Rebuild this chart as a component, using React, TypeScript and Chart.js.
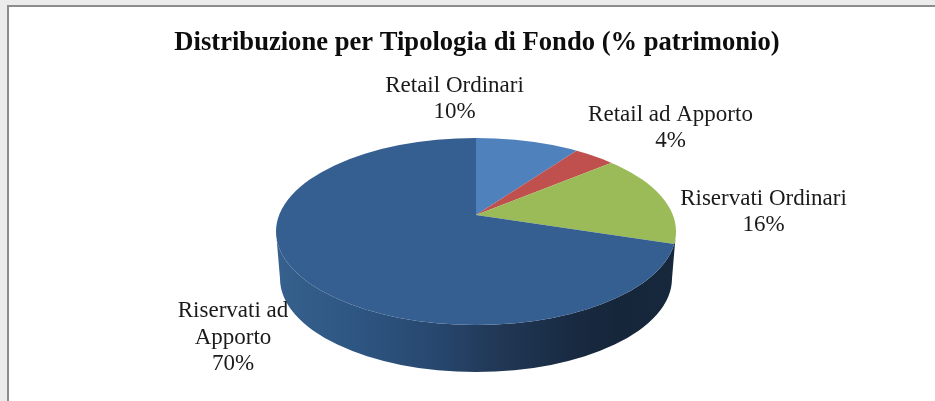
import React, { useEffect, useRef } from "react";
import { Chart, registerables } from "chart.js";

Chart.register(...registerables);

const TITLE = "Distribuzione per Tipologia di Fondo (% patrimonio)";
const categories = ["Retail Ordinari", "Retail ad Apporto", "Riservati Ordinari", "Riservati ad Apporto"];
const shares = [10, 4, 16, 70];
const sliceColors = ["#4F81BD", "#C0504D", "#9BBB59", "#365F91"];
const labelLines = [
  ["Retail Ordinari", "10%"],
  ["Retail ad Apporto", "4%"],
  ["Riservati Ordinari", "16%"],
  ["Riservati ad", "Apporto", "70%"],
];
const labelAnchors = [
  { x: 454.5, y: 85.5 },
  { x: 670.5, y: 114.5 },
  { x: 763.5, y: 198.5 },
  { x: 233, y: 311 },
];

const RIM = { cx: 476, cy: 231.5, rx: 200, ry: 93.5, depth: 47, bottomRx: 196, apexY: 215, compression: 0.83 };
const LABEL_FONT = '23px "Liberation Serif", serif';
const LINE_HEIGHT = 26.5;

const projectAngle = (canvasAngle: number) => {
  const theta = canvasAngle + Math.PI / 2;
  const turn = Math.PI * 2;
  const t = ((theta % turn) + turn) % turn;
  if (Math.abs(t) < 1e-6 || Math.abs(t - turn) < 1e-6) return theta;
  let p = 2 * Math.atan(RIM.compression * Math.tan(t / 2));
  if (p < 0) p += turn;
  return p;
};

const rimDirection = (p: number) => {
  const e = (RIM.cy - RIM.apexY) / RIM.ry;
  return Math.atan2(-Math.cos(p) + e, Math.sin(p));
};

const pie3d = {
  id: "pie3d",
  beforeDatasetsDraw(chart: any) {
    const ctx = chart.ctx;
    const { cx, cy, rx, ry, depth, bottomRx, apexY } = RIM;
    const wall = ctx.createLinearGradient(cx - rx, 0, cx + rx, 0);
    wall.addColorStop(0, "#36608D");
    wall.addColorStop(0.2, "#2E5682");
    wall.addColorStop(0.4, "#27476E");
    wall.addColorStop(0.55, "#213856");
    wall.addColorStop(0.75, "#182A41");
    wall.addColorStop(0.85, "#16263A");
    wall.addColorStop(1, "#17283C");
    ctx.save();
    ctx.beginPath();
    ctx.ellipse(cx, cy, rx, ry, 0, 0, Math.PI);
    ctx.lineTo(cx - bottomRx, cy + depth);
    ctx.ellipse(cx, cy + depth, bottomRx, ry, 0, Math.PI, 0, true);
    ctx.closePath();
    ctx.fillStyle = wall;
    ctx.fill();
    ctx.restore();

    const arcs = chart.getDatasetMeta(0).data;
    chart.$saved = arcs.map((a: any) => ({
      startAngle: a.startAngle, endAngle: a.endAngle, circumference: a.circumference, outerRadius: a.outerRadius,
    }));
    const R = arcs[0].outerRadius;
    const ox = arcs[0].x;
    const oy = arcs[0].y;
    arcs.forEach((a: any, i: number) => {
      const s = chart.$saved[i];
      const start = rimDirection(projectAngle(s.startAngle));
      let end = rimDirection(projectAngle(s.endAngle));
      while (end <= start) end += Math.PI * 2;
      a.startAngle = start;
      a.endAngle = end;
      a.circumference = end - start;
      a.outerRadius = R * 4;
    });
    ctx.save();
    ctx.beginPath();
    ctx.ellipse(cx, cy, rx, ry, 0, 0, Math.PI * 2);
    ctx.clip();
    ctx.translate(cx, apexY);
    ctx.scale(rx / R, ry / R);
    ctx.translate(-ox, -oy);
  },
  afterDatasetsDraw(chart: any) {
    const ctx = chart.ctx;
    ctx.restore();
    chart.getDatasetMeta(0).data.forEach((a: any, i: number) => Object.assign(a, chart.$saved[i]));
    ctx.save();
    ctx.font = LABEL_FONT;
    ctx.fillStyle = "#1a1a1a";
    ctx.textAlign = "center";
    ctx.textBaseline = "middle";
    labelLines.forEach((lines, i) => {
      lines.forEach((line, j) => {
        ctx.fillText(line, labelAnchors[i].x, labelAnchors[i].y + j * LINE_HEIGHT);
      });
    });
    ctx.restore();
  },
};

export default function App() {
  const ref = useRef<HTMLCanvasElement>(null);
  useEffect(() => {
    const chart = new Chart(ref.current!, {
      type: "pie",
      data: {
        labels: categories,
        datasets: [{ data: shares, backgroundColor: sliceColors, borderWidth: 0, clip: false } as any],
      },
      options: {
        responsive: false,
        animation: false,
        plugins: {
          legend: { display: false },
          tooltip: { enabled: false },
          title: {
            display: true,
            text: TITLE,
            color: "#0d0d0d",
            font: { family: '"Liberation Serif", serif', size: 26.6, weight: "bold" },
            padding: { top: 27, bottom: 8 },
          },
        },
      },
      plugins: [pie3d],
    });
    return () => chart.destroy();
  }, []);
  return (
    <div style={{ position: "fixed", left: 0, top: 0, width: 935, height: 401, overflow: "hidden", background: "#ececec" }}>
      <div
        style={{
          position: "absolute", left: 7, top: 5, width: 940, height: 410, background: "#fff",
          borderLeft: "2px solid #8c8c8c", borderTop: "2px solid #8c8c8c",
        }}
      />
      <canvas
        ref={ref}
        width={954}
        height={401}
        style={{ position: "absolute", left: 0, top: 0, display: "block", filter: "blur(0.35px)" }}
      />
    </div>
  );
}
